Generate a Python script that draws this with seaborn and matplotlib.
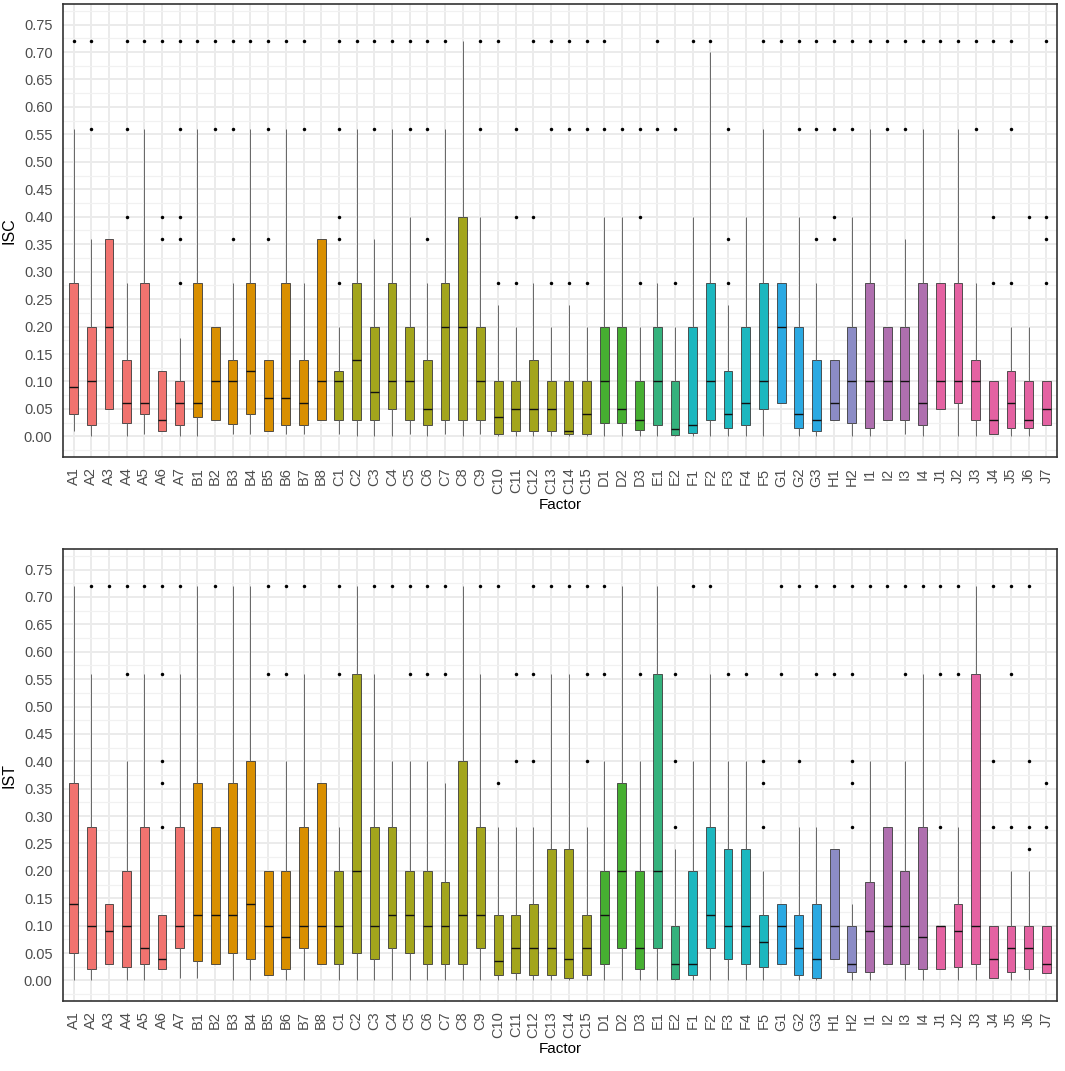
import numpy as np
import pandas as pd
import matplotlib
matplotlib.use("Agg")
import matplotlib.pyplot as plt
import seaborn as sns

# ---------------- data ----------------
categories = ["A1", "A2", "A3", "A4", "A5", "A6", "A7",
              "B1", "B2", "B3", "B4", "B5", "B6", "B7", "B8",
              "C1", "C2", "C3", "C4", "C5", "C6", "C7", "C8", "C9", "C10",
              "C11", "C12", "C13", "C14", "C15",
              "D1", "D2", "D3", "E1", "E2",
              "F1", "F2", "F3", "F4", "F5",
              "G1", "G2", "G3", "H1", "H2",
              "I1", "I2", "I3", "I4",
              "J1", "J2", "J3", "J4", "J5", "J6", "J7"]

group_colors = {"A": "#F1736F", "B": "#D98F00", "C": "#A3A51C", "D": "#46AF31",
                "E": "#35B27D", "F": "#1CB7BF", "G": "#2BA9E2", "H": "#8C8CC6",
                "I": "#AF6FAF", "J": "#E462A2"}

# ISC panel: five-number summaries per factor
isc_q1 = [0.04, 0.02, 0.05, 0.025, 0.04, 0.01, 0.02,
          0.035, 0.03, 0.022, 0.04, 0.01, 0.02, 0.02, 0.03,
          0.03, 0.03, 0.03, 0.05, 0.03, 0.02, 0.03, 0.03, 0.03, 0.005,
          0.01, 0.01, 0.01, 0.005, 0.005,
          0.025, 0.025, 0.012, 0.02, 0.002,
          0.007, 0.03, 0.015, 0.02, 0.05,
          0.06, 0.015, 0.01, 0.03, 0.025,
          0.015, 0.03, 0.03, 0.02,
          0.05, 0.06, 0.03, 0.005, 0.015, 0.015, 0.02]
isc_med = [0.09, 0.10, 0.20, 0.06, 0.06, 0.03, 0.06,
           0.06, 0.10, 0.10, 0.12, 0.07, 0.07, 0.06, 0.10,
           0.10, 0.14, 0.08, 0.10, 0.10, 0.05, 0.20, 0.20, 0.10, 0.036,
           0.05, 0.05, 0.05, 0.01, 0.04,
           0.10, 0.05, 0.03, 0.10, 0.014,
           0.02, 0.10, 0.04, 0.06, 0.10,
           0.20, 0.04, 0.03, 0.06, 0.10,
           0.10, 0.10, 0.10, 0.06,
           0.10, 0.10, 0.10, 0.03, 0.06, 0.03, 0.05]
isc_q3 = [0.28, 0.20, 0.36, 0.14, 0.28, 0.12, 0.10,
          0.28, 0.20, 0.14, 0.28, 0.14, 0.28, 0.14, 0.36,
          0.12, 0.28, 0.20, 0.28, 0.20, 0.14, 0.28, 0.40, 0.20, 0.10,
          0.10, 0.14, 0.10, 0.10, 0.10,
          0.20, 0.20, 0.10, 0.20, 0.10,
          0.20, 0.28, 0.12, 0.20, 0.28,
          0.28, 0.20, 0.14, 0.14, 0.20,
          0.28, 0.20, 0.20, 0.28,
          0.28, 0.28, 0.14, 0.10, 0.12, 0.10, 0.10]
isc_lo = [0.01, 0.0, 0.05, 0.0, 0.005, 0.01, 0.0,
          0.0, 0.03, 0.005, 0.005, 0.01, 0.005, 0.005, 0.03,
          0.005, 0.0, 0.0, 0.0, 0.005, 0.0, 0.005, 0.0, 0.005, 0.0,
          0.0, 0.0, 0.0, 0.0, 0.0,
          0.0, 0.0, 0.0, 0.0, 0.0,
          0.0, 0.0, 0.0, 0.0, 0.0,
          0.06, 0.0, 0.0, 0.03, 0.0,
          0.0, 0.03, 0.005, 0.0,
          0.05, 0.0, 0.0, 0.005, 0.0, 0.0, 0.02]
isc_hi = [0.56, 0.36, 0.36, 0.28, 0.56, 0.12, 0.18,
          0.56, 0.20, 0.28, 0.56, 0.14, 0.56, 0.28, 0.36,
          0.20, 0.56, 0.36, 0.56, 0.40, 0.28, 0.56, 0.72, 0.40, 0.24,
          0.20, 0.28, 0.20, 0.24, 0.20,
          0.40, 0.40, 0.20, 0.28, 0.20,
          0.40, 0.70, 0.24, 0.40, 0.56,
          0.28, 0.40, 0.28, 0.14, 0.40,
          0.56, 0.20, 0.36, 0.56,
          0.28, 0.56, 0.28, 0.10, 0.20, 0.20, 0.10]
isc_out = [[0.72], [0.72, 0.56], [], [0.72, 0.56, 0.40], [0.72], [0.72, 0.40, 0.36],
           [0.72, 0.56, 0.40, 0.36, 0.28],
           [0.72], [0.72, 0.56], [0.72, 0.56, 0.36], [0.72], [0.72, 0.56, 0.36], [0.72],
           [0.72, 0.56], [],
           [0.72, 0.56, 0.40, 0.36, 0.28], [0.72], [0.72, 0.56], [0.72], [0.72, 0.56],
           [0.72, 0.56, 0.36], [0.72], [], [0.72, 0.56], [0.72, 0.28],
           [0.56, 0.40, 0.28], [0.72, 0.40], [0.72, 0.56, 0.28], [0.72, 0.56, 0.28],
           [0.72, 0.56, 0.28],
           [0.72, 0.56], [0.56], [0.56, 0.40, 0.28], [0.72, 0.56], [0.56, 0.28],
           [0.72], [0.72], [0.56, 0.36, 0.28], [], [0.72],
           [0.72], [0.72, 0.56], [0.72, 0.56, 0.36], [0.72, 0.56, 0.40, 0.36], [0.72, 0.56],
           [0.72], [0.72, 0.56], [0.72, 0.56], [0.72],
           [0.72], [0.72], [0.72, 0.56], [0.72, 0.40, 0.28], [0.72, 0.56, 0.28], [0.40],
           [0.72, 0.40, 0.36, 0.28]]

# IST panel
ist_q1 = [0.05, 0.02, 0.03, 0.025, 0.03, 0.02, 0.06,
          0.035, 0.03, 0.05, 0.04, 0.01, 0.02, 0.06, 0.03,
          0.03, 0.05, 0.04, 0.06, 0.05, 0.03, 0.03, 0.03, 0.06, 0.01,
          0.013, 0.01, 0.01, 0.005, 0.01,
          0.03, 0.06, 0.02, 0.06, 0.002,
          0.01, 0.06, 0.04, 0.03, 0.025,
          0.03, 0.01, 0.005, 0.04, 0.015,
          0.015, 0.03, 0.03, 0.02,
          0.02, 0.025, 0.03, 0.005, 0.015, 0.02, 0.013]
ist_med = [0.14, 0.10, 0.09, 0.10, 0.06, 0.04, 0.10,
           0.12, 0.12, 0.12, 0.14, 0.10, 0.08, 0.10, 0.10,
           0.10, 0.20, 0.10, 0.12, 0.12, 0.10, 0.10, 0.12, 0.12, 0.035,
           0.06, 0.06, 0.06, 0.04, 0.06,
           0.12, 0.20, 0.06, 0.20, 0.03,
           0.03, 0.12, 0.10, 0.10, 0.07,
           0.10, 0.06, 0.04, 0.10, 0.03,
           0.09, 0.10, 0.10, 0.08,
           0.10, 0.09, 0.10, 0.04, 0.06, 0.06, 0.03]
ist_q3 = [0.36, 0.28, 0.14, 0.20, 0.28, 0.12, 0.28,
          0.36, 0.28, 0.36, 0.40, 0.20, 0.20, 0.28, 0.36,
          0.20, 0.56, 0.28, 0.28, 0.20, 0.20, 0.18, 0.40, 0.28, 0.12,
          0.12, 0.14, 0.24, 0.24, 0.12,
          0.20, 0.36, 0.20, 0.56, 0.10,
          0.20, 0.28, 0.24, 0.24, 0.12,
          0.14, 0.12, 0.14, 0.24, 0.10,
          0.18, 0.28, 0.20, 0.28,
          0.10, 0.14, 0.56, 0.10, 0.10, 0.10, 0.10]
ist_lo = [0.0, 0.0, 0.03, 0.0, 0.0, 0.02, 0.005,
          0.005, 0.03, 0.0, 0.0, 0.01, 0.0, 0.0, 0.03,
          0.0, 0.0, 0.0, 0.0, 0.0, 0.0, 0.0, 0.0, 0.0, 0.0,
          0.0, 0.0, 0.0, 0.0, 0.0,
          0.0, 0.0, 0.0, 0.0, 0.0,
          0.0, 0.0, 0.0, 0.0, 0.0,
          0.03, 0.0, 0.0, 0.04, 0.0,
          0.0, 0.03, 0.0, 0.0,
          0.02, 0.0, 0.0, 0.005, 0.0, 0.0, 0.013]
ist_hi = [0.72, 0.56, 0.14, 0.40, 0.56, 0.12, 0.56,
          0.72, 0.28, 0.72, 0.72, 0.20, 0.40, 0.56, 0.36,
          0.28, 0.72, 0.56, 0.40, 0.40, 0.40, 0.36, 0.72, 0.56, 0.28,
          0.28, 0.28, 0.56, 0.56, 0.28,
          0.40, 0.72, 0.40, 0.72, 0.24,
          0.40, 0.56, 0.40, 0.40, 0.20,
          0.14, 0.28, 0.28, 0.24, 0.14,
          0.40, 0.28, 0.40, 0.56,
          0.10, 0.28, 0.72, 0.10, 0.20, 0.20, 0.10]
ist_out = [[], [0.72], [0.72], [0.72, 0.56], [0.72], [0.72, 0.56, 0.40, 0.36, 0.28], [0.72],
           [], [0.72], [], [], [0.72, 0.56], [0.72, 0.56], [0.72], [],
           [0.72, 0.56], [], [0.72], [0.72], [0.72, 0.56], [0.72, 0.56], [0.72, 0.56], [],
           [0.72], [0.72, 0.36],
           [0.56, 0.40], [0.72, 0.56, 0.40], [0.72], [0.72], [0.72, 0.56, 0.40],
           [0.72, 0.56], [], [0.56], [], [0.56, 0.40, 0.28],
           [0.72], [0.72], [0.56], [0.56], [0.40, 0.36, 0.28],
           [0.72, 0.56], [0.72, 0.40], [0.72, 0.56], [0.72, 0.56], [0.72, 0.56, 0.40, 0.36, 0.28],
           [0.72], [0.72], [0.72, 0.56], [0.72],
           [0.72, 0.56, 0.28], [0.72, 0.56], [], [0.72, 0.40, 0.28], [0.72, 0.56, 0.28],
           [0.72, 0.40, 0.28, 0.24], [0.36, 0.28]]

y_ticks = [0.00, 0.05, 0.10, 0.15, 0.20, 0.25, 0.30, 0.35, 0.40, 0.45,
           0.50, 0.55, 0.60, 0.65, 0.70, 0.75]

# ---------------- plotting ----------------
sns.set_theme(style="whitegrid")
plt.rcParams["font.family"] = ["Liberation Sans", "DejaVu Sans"]

palette = {c: group_colors[c[0]] for c in categories}

fig = plt.figure(figsize=(10.65, 10.71), dpi=100)
ax1 = fig.add_axes([63 / 1065, 1 - 457 / 1071, (1057 - 63) / 1065, (457 - 4) / 1071])
ax2 = fig.add_axes([63 / 1065, 1 - 1001 / 1071, (1057 - 63) / 1065, (1001 - 549) / 1071])


def draw_panel(ax, q1, med, q3, lo, hi, outs, ylabel):
    rows = []
    for c, a, b, m, d, e in zip(categories, lo, q1, med, q3, hi):
        for v in (a, b, m, d, e):
            rows.append((c, v))
    df = pd.DataFrame(rows, columns=["Factor", "value"])
    orows = [(c, v) for c, vs in zip(categories, outs) for v in vs]
    odf = pd.DataFrame(orows, columns=["Factor", "value"])

    sns.boxplot(data=df, x="Factor", y="value", hue="Factor", order=categories,
                hue_order=categories, palette=palette, saturation=1, width=0.5,
                whis=(0, 100), showfliers=False, showcaps=False, dodge=False,
                linewidth=0.6, linecolor="#3a3a3a",
                medianprops=dict(color="#111111", linewidth=1.0),
                whiskerprops=dict(color="#666666", linewidth=0.7),
                legend=False, ax=ax)
    sns.stripplot(data=odf, x="Factor", y="value", order=categories, jitter=False,
                  color="black", size=2.5, linewidth=0, ax=ax)

    ax.set_xlim(-0.6, len(categories) - 0.4)
    ax.set_ylim(-0.0375, 0.7875)
    ax.set_yticks(y_ticks)
    ax.set_yticklabels([f"{t:.2f}" for t in y_ticks])
    ax.set_yticks([t - 0.025 for t in y_ticks] + [0.775], minor=True)
    ax.set_axisbelow(True)
    ax.grid(True, which="major", axis="both", color="#EBEBEB", linewidth=1.4)
    ax.grid(True, which="minor", axis="y", color="#F1F1F1", linewidth=0.9)
    ax.tick_params(axis="both", which="major", length=5, width=1.2, color="#333333",
                   labelcolor="#4D4D4D", labelsize=10.5, pad=2.5)
    ax.tick_params(axis="both", which="minor", length=0)
    ax.tick_params(axis="x", labelrotation=90)
    for sp in ax.spines.values():
        sp.set_visible(True)
        sp.set_color("#333333")
        sp.set_linewidth(1.2)
    ax.set_xlabel("Factor", fontsize=11, color="black", labelpad=3)
    ax.set_ylabel(ylabel, fontsize=11.5, color="black", labelpad=5)


draw_panel(ax1, isc_q1, isc_med, isc_q3, isc_lo, isc_hi, isc_out, "ISC")
draw_panel(ax2, ist_q1, ist_med, ist_q3, ist_lo, ist_hi, ist_out, "IST")

fig.savefig("out.png", dpi=100, facecolor="white")
